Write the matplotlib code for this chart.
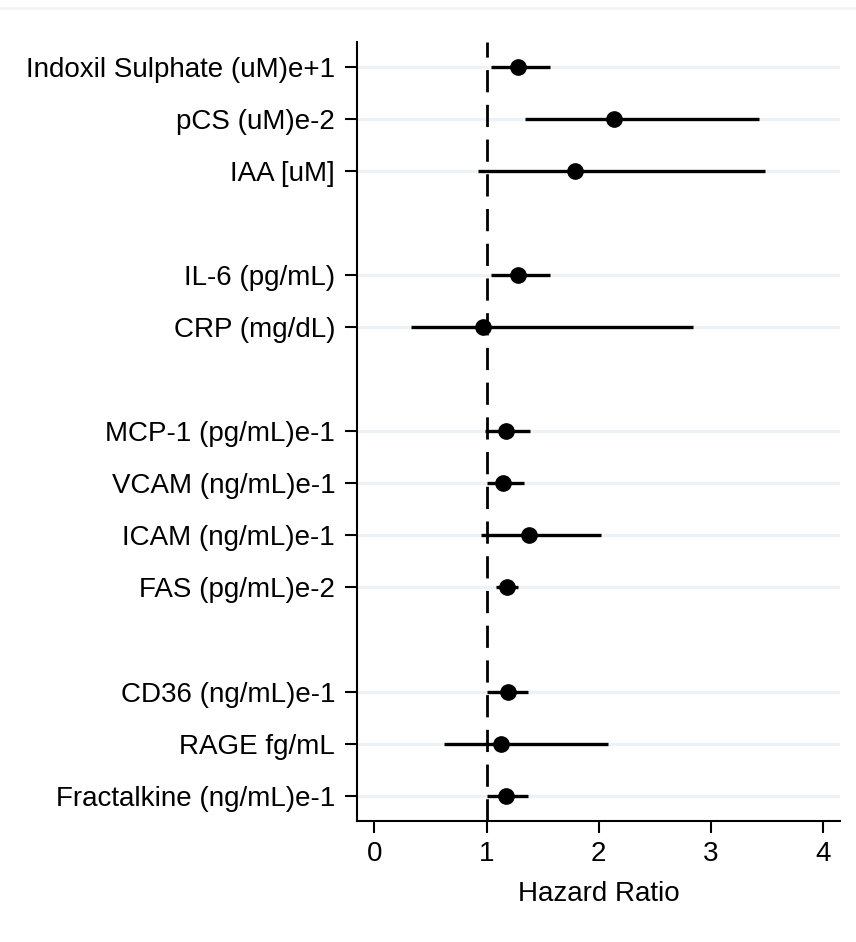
import numpy as np
import matplotlib.pyplot as plt

plt.rcParams['font.family'] = ['Liberation Sans', 'DejaVu Sans']

# Biomarkers, grouped (one blank row between groups)
groups = [
    ["Indoxil Sulphate (uM)e+1", "pCS (uM)e-2", "IAA [uM]"],
    ["IL-6 (pg/mL)", "CRP (mg/dL)"],
    ["MCP-1 (pg/mL)e-1", "VCAM (ng/mL)e-1", "ICAM (ng/mL)e-1", "FAS (pg/mL)e-2"],
    ["CD36 (ng/mL)e-1", "RAGE fg/mL", "Fractalkine (ng/mL)e-1"],
]

# Hazard ratios and 95% CI
hr = [1.28, 2.14, 1.79, 1.28, 0.97, 1.17, 1.15, 1.38, 1.18, 1.19, 1.13, 1.17]
lo = [1.04, 1.34, 0.92, 1.04, 0.33, 0.99, 1.00, 0.95, 1.08, 1.00, 0.62, 1.00]
hi = [1.57, 3.43, 3.48, 1.57, 2.84, 1.39, 1.33, 2.02, 1.28, 1.37, 2.08, 1.37]

xticks = [0, 1, 2, 3, 4]

# row positions with gaps between groups
labels, ypos = [], []
row = 0
for g in groups:
    for name in g:
        labels.append(name)
        ypos.append(row)
        row += 1
    row += 1
ypos = np.array(ypos)

fig = plt.figure(figsize=(8.56, 9.42), dpi=100)
ax = fig.add_axes([0.4167, 0.1288, 0.9813 - 0.4167, 0.9557 - 0.1288])

for y in ypos:
    ax.axhline(y, color='#edf2f6', lw=2.2, zorder=0)

ax.axvline(1, color='black', lw=2.0, ls=(0, (8, 4.5)), zorder=1)

ax.hlines(ypos, lo, hi, color='black', lw=2.4, zorder=2)
ax.plot(hr, ypos, 'o', color='black', ms=11, zorder=3)

ax.set_xlim(-0.157, 4.15)
ax.set_ylim(14.48, -0.48)
ax.set_xticks(xticks)
ax.set_yticks(ypos)
ax.set_yticklabels(labels)
ax.set_xlabel("Hazard Ratio", fontsize=20, labelpad=10)

ax.tick_params(axis='both', labelsize=20, length=8.5, width=1.5, direction='out')
ax.tick_params(axis='y', pad=7)
ax.tick_params(axis='x', pad=6)

for s in ['top', 'right']:
    ax.spines[s].set_visible(False)
for s in ['left', 'bottom']:
    ax.spines[s].set_linewidth(1.5)

# faint frame line at the top of the graph region
fig.add_artist(plt.Line2D([0, 1], [1 - 8 / 942, 1 - 8 / 942], color='#f2f4f6', lw=2))

fig.savefig("out.png", dpi=100)
